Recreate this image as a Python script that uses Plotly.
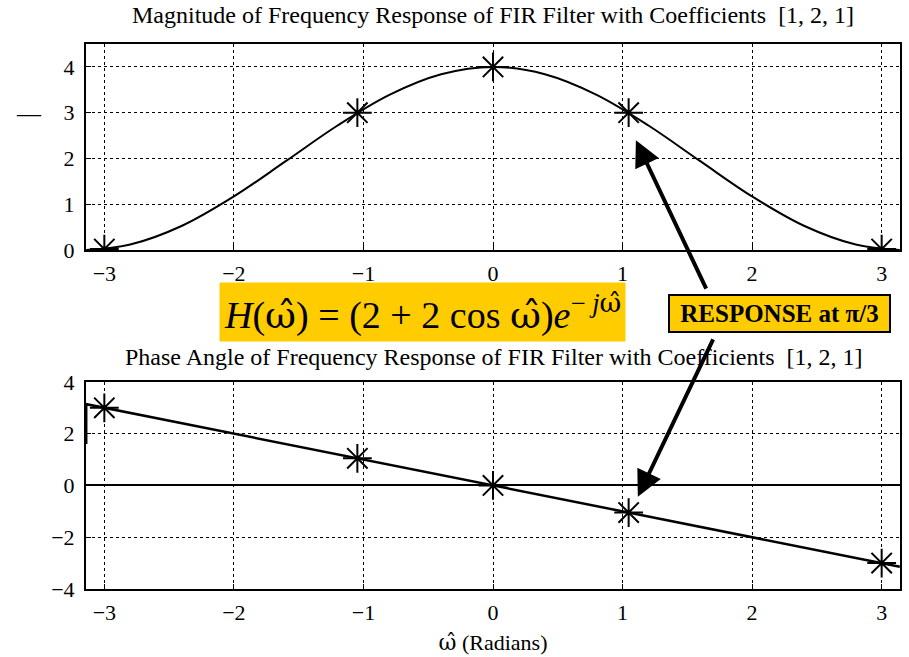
import plotly.graph_objects as go

# ---- data ----
omega_curve = [-3.14, -2.8, -2.4, -2.0, -1.6, -1.2, -0.8, -0.4, 0.0,
               0.4, 0.8, 1.2, 1.6, 2.0, 2.4, 2.8, 3.14]
magnitude_curve = [0.00, 0.12, 0.53, 1.17, 1.94, 2.72, 3.39, 3.84, 4.00,
                   3.84, 3.39, 2.72, 1.94, 1.17, 0.53, 0.12, 0.00]
omega_samples = [-3.0, -1.047, 0.0, 1.047, 3.0]
magnitude_samples = [0.02, 3.0, 4.0, 3.0, 0.02]
phase_line_x = [-3.14, -3.14, 3.14]
phase_line_y = [1.6, 3.14, -3.14]
phase_samples = [3.0, 1.047, 0.0, -1.047, -3.0]
x_ticks = [-3, -2, -1, 0, 1, 2, 3]
mag_ticks = [0, 1, 2, 3, 4]
phase_ticks = [-4, -2, 0, 2, 4]

FONT = "Liberation Serif"
W_HAT = '<span style="font-family:DejaVu Serif">ω\u0302</span>'
NB = "\u00a0"

fig = go.Figure()

marker_style = dict(symbol="asterisk-open", size=24, color="black",
                    line=dict(color="black", width=2))

fig.add_trace(go.Scatter(x=omega_curve, y=magnitude_curve, mode="lines",
                         line=dict(color="black", width=2, shape="spline"),
                         xaxis="x", yaxis="y", showlegend=False))
fig.add_trace(go.Scatter(x=omega_samples, y=magnitude_samples, mode="markers",
                         marker=marker_style,
                         xaxis="x", yaxis="y", showlegend=False))
fig.add_trace(go.Scatter(x=phase_line_x, y=phase_line_y, mode="lines",
                         line=dict(color="black", width=2.5),
                         xaxis="x2", yaxis="y2", showlegend=False))
fig.add_trace(go.Scatter(x=omega_samples, y=phase_samples, mode="markers",
                         marker=marker_style,
                         xaxis="x2", yaxis="y2", showlegend=False))

axis_common = dict(showline=True, linecolor="black", linewidth=2, mirror=True,
                   ticks="inside", ticklen=5, tickcolor="black", automargin=False,
                   showgrid=True, gridcolor="black", griddash="dot", gridwidth=1,
                   tickfont=dict(family=FONT, size=22, color="black"))

fig.update_layout(
    width=909, height=657,
    margin=dict(l=86, r=9, t=44, b=68),
    plot_bgcolor="white", paper_bgcolor="white",
    font=dict(family=FONT, color="black"),
    xaxis=dict(range=[-3.1416, 3.1416], tickvals=x_ticks, anchor="y",
               zeroline=False, ticklabelstandoff=3, **axis_common),
    yaxis=dict(range=[0, 4.5], tickvals=mag_ticks, domain=[0.622, 1.0],
               anchor="x", zeroline=False, ticklabelstandoff=5, **axis_common),
    xaxis2=dict(range=[-3.1416, 3.1416], tickvals=x_ticks, anchor="y2",
                zeroline=False, ticklabelstandoff=3,
                title=dict(text=W_HAT + " (Radians)", font=dict(family=FONT, size=22),
                           standoff=10),
                **axis_common),
    yaxis2=dict(range=[-4, 4], tickvals=phase_ticks, domain=[0.0, 0.38],
                anchor="x2", zeroline=True, zerolinecolor="black", zerolinewidth=1.5,
                ticklabelstandoff=5, **axis_common),
)

annotations = [
    dict(text="Magnitude of Frequency Response of FIR Filter with Coefficients  [1, 2, 1]",
         x=0.5, y=1.0, xref="paper", yref="paper", yshift=29, showarrow=False,
         xanchor="center", yanchor="middle", font=dict(family=FONT, size=24)),
    dict(text="Phase Angle of Frequency Response of FIR Filter with Coefficients  [1, 2, 1]",
         x=0.5, y=0.38, xref="paper", yref="paper", yshift=25, showarrow=False,
         xanchor="center", yanchor="middle", font=dict(family=FONT, size=24)),
    dict(text="—", x=-0.07, y=3.0, xref="paper", yref="y", showarrow=False,
         xanchor="center", yanchor="middle", font=dict(family=FONT, size=24)),
    dict(text="<i>H</i>(" + W_HAT + ") = (2 + 2 cos " + W_HAT + ")<i>e</i><sup>− <i>j</i>"
         + W_HAT + "</sup>",
         x=0.413, y=0.509, xref="paper", yref="paper", showarrow=False,
         xanchor="center", yanchor="middle",
         bgcolor="#FFCC00", font=dict(family=FONT, size=38, color="black"),
         borderpad=4),
    dict(text="<b>" + NB + "RESPONSE at π/3" + NB + "</b>", x=0.852, y=0.505,
         xref="paper", yref="paper", xanchor="center", yanchor="middle",
         showarrow=False, bgcolor="#FFCC00", bordercolor="black", borderwidth=2,
         borderpad=4, font=dict(family=FONT, size=25, color="black")),
    dict(x=1.103, y=2.40, xref="x", yref="y", ax=71, ay=150, showarrow=True,
         arrowhead=2, arrowsize=1.3, arrowwidth=4, arrowcolor="black", text=""),
    dict(x=1.118, y=-0.44, xref="x2", yref="y2", ax=76, ay=-159, showarrow=True,
         arrowhead=2, arrowsize=1.3, arrowwidth=4, arrowcolor="black", text=""),
]
fig.update_layout(annotations=annotations)

fig.write_html("out.html", config={"displayModeBar": False},
               post_script="document.body.style.margin='0';")
